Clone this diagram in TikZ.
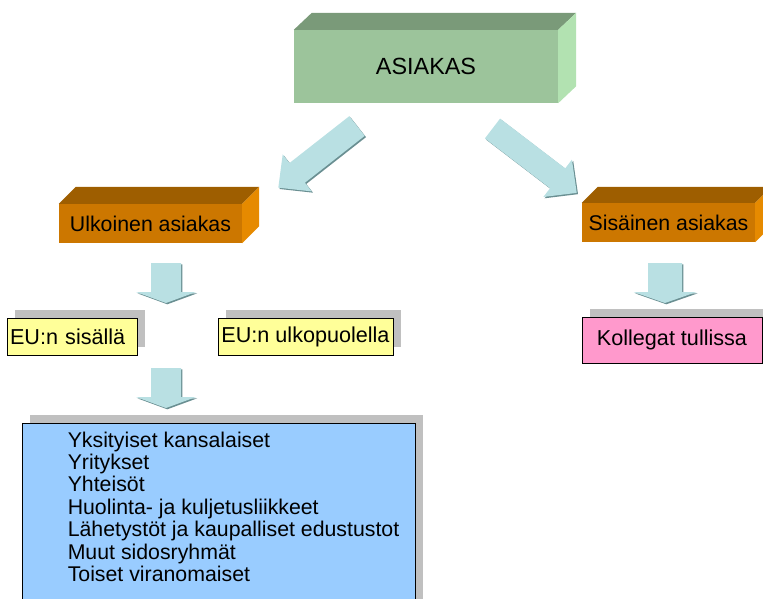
\documentclass[tikz,border=0pt]{standalone}
\usepackage{fontspec}
\setmainfont{Liberation Sans}
\usepackage{xcolor}
\usetikzlibrary{calc,shadows}

\definecolor{greenfront}{HTML}{9CC49B}
\definecolor{greentop}{HTML}{7A9A79}
\definecolor{greenside}{HTML}{B2E2B1}
\definecolor{orangefront}{HTML}{CC7700}
\definecolor{orangetop}{HTML}{9E5E00}
\definecolor{orangeside}{HTML}{E68A00}
\definecolor{arrowfill}{HTML}{B9E0E3}
\definecolor{arrowedge}{HTML}{6A8F92}
\definecolor{shadowgray}{HTML}{C0C0C0}
\definecolor{yellowbox}{HTML}{FFFF99}
\definecolor{pinkbox}{HTML}{FF99CC}
\definecolor{bluebox}{HTML}{99CCFF}

% block arrow: x, y, angle, length, shaft half width, head half width, head length
\newcommand{\blockarrow}[7]{%
\begin{scope}[shift={(#1+1.3,#2+1.3)},rotate=#3]
\fill[arrowedge] (0,-#5) -- ({#4-#7},-#5) -- ({#4-#7},-#6) -- (#4,0) -- ({#4-#7},#6) -- ({#4-#7},#5) -- (0,#5) -- cycle;
\end{scope}
\begin{scope}[shift={(#1,#2)},rotate=#3]
\fill[arrowfill] (0,-#5) -- ({#4-#7},-#5) -- ({#4-#7},-#6) -- (#4,0) -- ({#4-#7},#6) -- ({#4-#7},#5) -- (0,#5) -- cycle;
\end{scope}}

\tikzset{
  front/.style={inner sep=0pt, font=\fontsize{21.3}{25}\selectfont},
  flatbox/.style={draw=black, line width=0.9pt, inner sep=3pt,
    font=\fontsize{21.6}{25}\selectfont,
    general shadow={fill=shadowgray, shadow xshift=8pt, shadow yshift=8pt}}
}

\begin{document}
\begin{tikzpicture}[x=1pt,y=-1pt]
\useasboundingbox (0,0) rectangle (763,599);
\clip (0,0) rectangle (763,599);

% top box
\node[front, fill=greenfront, minimum width=264pt, minimum height=73pt,
  font=\fontsize{23.4}{27}\selectfont] (asiakas) at (426,66.5) {ASIAKAS};
\fill[greentop] (asiakas.north west) -- ++(18,-17) -- ($(asiakas.north east)+(18,-17)$) -- (asiakas.north east) -- cycle;
\fill[greenside] (asiakas.north east) -- ++(18,-17) -- ($(asiakas.south east)+(18,-17)$) -- (asiakas.south east) -- cycle;

% second level
\node[front, fill=orangefront, minimum width=183pt, minimum height=39pt] (ulkoinen) at (150.5,223.5) {Ulkoinen asiakas};
\fill[orangetop] (ulkoinen.north west) -- ++(17,-17) -- ($(ulkoinen.north east)+(17,-17)$) -- (ulkoinen.north east) -- cycle;
\fill[orangeside] (ulkoinen.north east) -- ++(17,-17) -- ($(ulkoinen.south east)+(17,-17)$) -- (ulkoinen.south east) -- cycle;

\node[front, fill=orangefront, minimum width=173pt, minimum height=39pt] (sisainen) at (668.5,222.5) {Sis\"ainen asiakas};
\fill[orangetop] (sisainen.north west) -- ++(16,-16) -- ($(sisainen.north east)+(16,-16)$) -- (sisainen.north east) -- cycle;
\fill[orangeside] (sisainen.north east) -- ++(16,-16) -- ($(sisainen.south east)+(16,-16)$) -- (sisainen.south east) -- cycle;

% arrows
\blockarrow{357}{126}{-141.9}{100}{12.5}{23.5}{24}
\blockarrow{492.5}{128.5}{-37.4}{106}{12.5}{23.5}{24}
\blockarrow{166}{263}{-90}{40}{15}{30}{11}
\blockarrow{166}{368}{-90}{40}{15}{30}{11}
\blockarrow{665}{263}{-90}{40}{17}{31.5}{11}

% third level
\node[flatbox, fill=yellowbox, minimum height=37pt, text width=124pt, align=left] (eusis) at (72,336.5) {EU:n sis\"all\"a};
\node[flatbox, fill=yellowbox, minimum width=175pt, minimum height=37pt] (euulko) at (305.5,336.5) {EU:n ulkopuolella};
\node[flatbox, fill=pinkbox, minimum width=180pt, minimum height=46pt] (kollegat) at (672,340) {Kollegat tullissa};

% list
\node[flatbox, fill=bluebox, minimum width=393pt, minimum height=217pt] (ryhmat) at (218.5,531.5) {};
\node[anchor=north west, inner sep=0pt, align=left, font=\fontsize{21.3}{22.4}\selectfont] (lista) at ($(ryhmat.north west)+(46,9)$) {Yksityiset kansalaiset\\
Yritykset\\
Yhteis\"ot\\
Huolinta- ja kuljetusliikkeet\\
L\"ahetyst\"ot ja kaupalliset edustustot\\
Muut sidosryhm\"at\\
Toiset viranomaiset};
\end{tikzpicture}
\end{document}
